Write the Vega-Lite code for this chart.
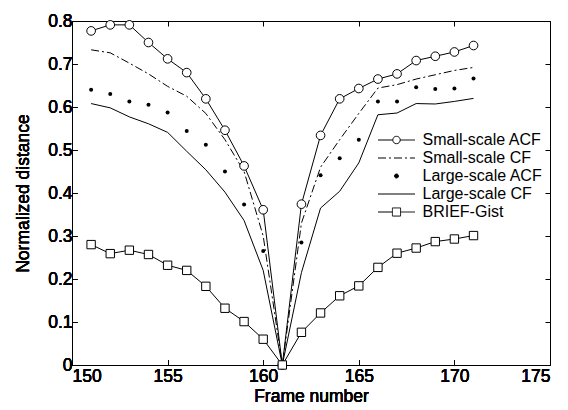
{
  "$schema": "https://vega.github.io/schema/vega-lite/v6.json",
  "width": 478,
  "height": 344,
  "autosize": {"type": "none"},
  "padding": {"left": 72, "top": 21, "right": 18, "bottom": 45},
  "background": "white",
  "config": {
    "view": {"stroke": "black", "strokeWidth": 1},
    "font": "Liberation Sans",
    "axis": {
      "domain": false,
      "grid": false,
      "tickColor": "black",
      "tickSize": -5,
      "labelColor": "black",
      "labelFont": "Liberation Sans",
      "labelFontSize": 17.5,
      "titleFont": "Liberation Sans",
      "titleFontSize": 17.5,
      "titleFontWeight": "normal",
      "titleColor": "black"
    }
  },
  "data": {
    "values": [
      {"series": "Small-scale ACF", "frame": 151, "value": 0.777},
      {"series": "Small-scale ACF", "frame": 152, "value": 0.791},
      {"series": "Small-scale ACF", "frame": 153, "value": 0.791},
      {"series": "Small-scale ACF", "frame": 154, "value": 0.750},
      {"series": "Small-scale ACF", "frame": 155, "value": 0.712},
      {"series": "Small-scale ACF", "frame": 156, "value": 0.680},
      {"series": "Small-scale ACF", "frame": 157, "value": 0.619},
      {"series": "Small-scale ACF", "frame": 158, "value": 0.546},
      {"series": "Small-scale ACF", "frame": 159, "value": 0.463},
      {"series": "Small-scale ACF", "frame": 160, "value": 0.361},
      {"series": "Small-scale ACF", "frame": 161, "value": 0.0},
      {"series": "Small-scale ACF", "frame": 162, "value": 0.374},
      {"series": "Small-scale ACF", "frame": 163, "value": 0.534},
      {"series": "Small-scale ACF", "frame": 164, "value": 0.619},
      {"series": "Small-scale ACF", "frame": 165, "value": 0.643},
      {"series": "Small-scale ACF", "frame": 166, "value": 0.665},
      {"series": "Small-scale ACF", "frame": 167, "value": 0.677},
      {"series": "Small-scale ACF", "frame": 168, "value": 0.708},
      {"series": "Small-scale ACF", "frame": 169, "value": 0.718},
      {"series": "Small-scale ACF", "frame": 170, "value": 0.728},
      {"series": "Small-scale ACF", "frame": 171, "value": 0.743},

      {"series": "Small-scale CF", "frame": 151, "value": 0.733},
      {"series": "Small-scale CF", "frame": 152, "value": 0.726},
      {"series": "Small-scale CF", "frame": 153, "value": 0.702},
      {"series": "Small-scale CF", "frame": 154, "value": 0.677},
      {"series": "Small-scale CF", "frame": 155, "value": 0.648},
      {"series": "Small-scale CF", "frame": 156, "value": 0.625},
      {"series": "Small-scale CF", "frame": 157, "value": 0.585},
      {"series": "Small-scale CF", "frame": 158, "value": 0.524},
      {"series": "Small-scale CF", "frame": 159, "value": 0.450},
      {"series": "Small-scale CF", "frame": 160, "value": 0.300},
      {"series": "Small-scale CF", "frame": 161, "value": 0.0},
      {"series": "Small-scale CF", "frame": 162, "value": 0.330},
      {"series": "Small-scale CF", "frame": 163, "value": 0.460},
      {"series": "Small-scale CF", "frame": 164, "value": 0.524},
      {"series": "Small-scale CF", "frame": 165, "value": 0.585},
      {"series": "Small-scale CF", "frame": 166, "value": 0.644},
      {"series": "Small-scale CF", "frame": 167, "value": 0.652},
      {"series": "Small-scale CF", "frame": 168, "value": 0.665},
      {"series": "Small-scale CF", "frame": 169, "value": 0.675},
      {"series": "Small-scale CF", "frame": 170, "value": 0.685},
      {"series": "Small-scale CF", "frame": 171, "value": 0.692},

      {"series": "Large-scale ACF", "frame": 151, "value": 0.640},
      {"series": "Large-scale ACF", "frame": 152, "value": 0.630},
      {"series": "Large-scale ACF", "frame": 153, "value": 0.613},
      {"series": "Large-scale ACF", "frame": 154, "value": 0.605},
      {"series": "Large-scale ACF", "frame": 155, "value": 0.587},
      {"series": "Large-scale ACF", "frame": 156, "value": 0.544},
      {"series": "Large-scale ACF", "frame": 157, "value": 0.512},
      {"series": "Large-scale ACF", "frame": 158, "value": 0.450},
      {"series": "Large-scale ACF", "frame": 159, "value": 0.373},
      {"series": "Large-scale ACF", "frame": 160, "value": 0.265},
      {"series": "Large-scale ACF", "frame": 161, "value": 0.0},
      {"series": "Large-scale ACF", "frame": 162, "value": 0.285},
      {"series": "Large-scale ACF", "frame": 163, "value": 0.441},
      {"series": "Large-scale ACF", "frame": 164, "value": 0.481},
      {"series": "Large-scale ACF", "frame": 165, "value": 0.524},
      {"series": "Large-scale ACF", "frame": 166, "value": 0.613},
      {"series": "Large-scale ACF", "frame": 167, "value": 0.613},
      {"series": "Large-scale ACF", "frame": 168, "value": 0.646},
      {"series": "Large-scale ACF", "frame": 169, "value": 0.642},
      {"series": "Large-scale ACF", "frame": 170, "value": 0.643},
      {"series": "Large-scale ACF", "frame": 171, "value": 0.666},

      {"series": "Large-scale CF", "frame": 151, "value": 0.608},
      {"series": "Large-scale CF", "frame": 152, "value": 0.598},
      {"series": "Large-scale CF", "frame": 153, "value": 0.577},
      {"series": "Large-scale CF", "frame": 154, "value": 0.561},
      {"series": "Large-scale CF", "frame": 155, "value": 0.541},
      {"series": "Large-scale CF", "frame": 156, "value": 0.497},
      {"series": "Large-scale CF", "frame": 157, "value": 0.454},
      {"series": "Large-scale CF", "frame": 158, "value": 0.402},
      {"series": "Large-scale CF", "frame": 159, "value": 0.336},
      {"series": "Large-scale CF", "frame": 160, "value": 0.220},
      {"series": "Large-scale CF", "frame": 161, "value": 0.0},
      {"series": "Large-scale CF", "frame": 162, "value": 0.215},
      {"series": "Large-scale CF", "frame": 163, "value": 0.365},
      {"series": "Large-scale CF", "frame": 164, "value": 0.404},
      {"series": "Large-scale CF", "frame": 165, "value": 0.470},
      {"series": "Large-scale CF", "frame": 166, "value": 0.582},
      {"series": "Large-scale CF", "frame": 167, "value": 0.586},
      {"series": "Large-scale CF", "frame": 168, "value": 0.608},
      {"series": "Large-scale CF", "frame": 169, "value": 0.607},
      {"series": "Large-scale CF", "frame": 170, "value": 0.613},
      {"series": "Large-scale CF", "frame": 171, "value": 0.620},

      {"series": "BRIEF-Gist", "frame": 151, "value": 0.280},
      {"series": "BRIEF-Gist", "frame": 152, "value": 0.259},
      {"series": "BRIEF-Gist", "frame": 153, "value": 0.267},
      {"series": "BRIEF-Gist", "frame": 154, "value": 0.257},
      {"series": "BRIEF-Gist", "frame": 155, "value": 0.232},
      {"series": "BRIEF-Gist", "frame": 156, "value": 0.220},
      {"series": "BRIEF-Gist", "frame": 157, "value": 0.183},
      {"series": "BRIEF-Gist", "frame": 158, "value": 0.132},
      {"series": "BRIEF-Gist", "frame": 159, "value": 0.101},
      {"series": "BRIEF-Gist", "frame": 160, "value": 0.060},
      {"series": "BRIEF-Gist", "frame": 161, "value": 0.0},
      {"series": "BRIEF-Gist", "frame": 162, "value": 0.076},
      {"series": "BRIEF-Gist", "frame": 163, "value": 0.121},
      {"series": "BRIEF-Gist", "frame": 164, "value": 0.161},
      {"series": "BRIEF-Gist", "frame": 165, "value": 0.184},
      {"series": "BRIEF-Gist", "frame": 166, "value": 0.227},
      {"series": "BRIEF-Gist", "frame": 167, "value": 0.260},
      {"series": "BRIEF-Gist", "frame": 168, "value": 0.272},
      {"series": "BRIEF-Gist", "frame": 169, "value": 0.287},
      {"series": "BRIEF-Gist", "frame": 170, "value": 0.293},
      {"series": "BRIEF-Gist", "frame": 171, "value": 0.301}
    ]
  },
  "encoding": {
    "x": {
      "field": "frame", "type": "quantitative",
      "scale": {"domain": [150, 175], "nice": false, "zero": false},
      "axis": {"orient": "bottom", "values": [150, 155, 160, 165, 170, 175], "title": "Frame number", "labelPadding": 7, "titlePadding": 3}
    },
    "y": {
      "field": "value", "type": "quantitative",
      "scale": {"domain": [0, 0.8], "nice": false},
      "axis": {"orient": "left", "values": [0, 0.1, 0.2, 0.3, 0.4, 0.5, 0.6, 0.7, 0.8], "labelExpr": "datum.value == 0 ? '0' : format(datum.value, '.1f')", "title": "Normalized distance", "labelPadding": 5, "titlePadding": 15}
    }
  },
  "layer": [
    {
      "transform": [{"filter": "datum.series == 'Small-scale ACF' || datum.series == 'Large-scale CF' || datum.series == 'BRIEF-Gist'"}],
      "mark": {"type": "line", "color": "black", "strokeWidth": 1},
      "encoding": {"detail": {"field": "series"}}
    },
    {
      "transform": [{"filter": "datum.series == 'Small-scale CF'"}],
      "mark": {"type": "line", "color": "black", "strokeWidth": 1, "strokeDash": [8, 3, 2, 3]},
      "encoding": {}
    },
    {
      "transform": [{"filter": "datum.series == 'Small-scale ACF'"}],
      "mark": {"type": "point", "shape": "circle", "filled": true, "fill": "white", "stroke": "black", "strokeWidth": 1, "size": 75, "opacity": 1}
    },
    {
      "transform": [{"filter": "datum.series == 'Large-scale ACF'"}],
      "mark": {"type": "circle", "color": "black", "size": 16, "opacity": 1}
    },
    {
      "transform": [{"filter": "datum.series == 'BRIEF-Gist'"}],
      "mark": {"type": "point", "shape": "square", "filled": true, "fill": "white", "stroke": "black", "strokeWidth": 1, "size": 70, "opacity": 1}
    },
    {
      "mark": {"type": "point", "filled": true, "strokeWidth": 1, "opacity": 0},
      "encoding": {
        "x": {"field": "frame", "type": "quantitative", "axis": {"orient": "top", "values": [150, 155, 160, 165, 170, 175], "labels": false, "title": null}},
        "y": {"field": "value", "type": "quantitative", "axis": {"orient": "right", "values": [0, 0.1, 0.2, 0.3, 0.4, 0.5, 0.6, 0.7, 0.8], "labels": false, "title": null}},
        "shape": {
          "field": "series", "type": "nominal",
          "scale": {
            "domain": ["Small-scale ACF", "Small-scale CF", "Large-scale ACF", "Large-scale CF", "BRIEF-Gist"],
            "range": [
              "M-1,0H-0.2M0.2,0H1M0.2,0A0.2,0.2 0 1,1 -0.2,0A0.2,0.2 0 1,1 0.2,0Z",
              "M-1,0H1",
              "M0.11,0A0.11,0.11 0 1,1 -0.11,0A0.11,0.11 0 1,1 0.11,0Z",
              "M-1,0H1",
              "M-1,0H-0.22M0.22,0H1M-0.22,-0.22H0.22V0.22H-0.22Z"
            ]
          },
          "legend": {"title": null, "orient": "none", "legendX": 305.5, "legendY": 110.25, "padding": 0, "symbolSize": 1369, "clipHeight": 17.5, "rowPadding": 0, "labelOffset": 7, "labelFont": "Liberation Sans", "labelFontSize": 16, "labelColor": "black", "symbolOpacity": 1, "symbolStrokeWidth": 1, "labelLimit": 300}
        },
        "fill": {
          "field": "series", "type": "nominal",
          "scale": {
            "domain": ["Small-scale ACF", "Small-scale CF", "Large-scale ACF", "Large-scale CF", "BRIEF-Gist"],
            "range": ["white", "white", "black", "white", "white"]
          },
          "legend": {"title": null, "orient": "none", "legendX": 305.5, "legendY": 110.25, "padding": 0, "symbolSize": 1369, "clipHeight": 17.5, "rowPadding": 0, "labelOffset": 7, "labelFont": "Liberation Sans", "labelFontSize": 16, "labelColor": "black", "symbolOpacity": 1, "symbolStrokeWidth": 1, "labelLimit": 300}
        },
        "stroke": {
          "field": "series", "type": "nominal",
          "scale": {
            "domain": ["Small-scale ACF", "Small-scale CF", "Large-scale ACF", "Large-scale CF", "BRIEF-Gist"],
            "range": ["black", "black", "black", "black", "black"]
          },
          "legend": {"title": null, "orient": "none", "legendX": 305.5, "legendY": 110.25, "padding": 0, "symbolSize": 1369, "clipHeight": 17.5, "rowPadding": 0, "labelOffset": 7, "labelFont": "Liberation Sans", "labelFontSize": 16, "labelColor": "black", "symbolOpacity": 1, "symbolStrokeWidth": 1, "labelLimit": 300}
        },
        "strokeDash": {
          "field": "series", "type": "nominal",
          "scale": {
            "domain": ["Small-scale ACF", "Small-scale CF", "Large-scale ACF", "Large-scale CF", "BRIEF-Gist"],
            "range": [[1, 0], [8, 3, 2, 3], [1, 0], [1, 0], [1, 0]]
          },
          "legend": {"title": null, "orient": "none", "legendX": 305.5, "legendY": 110.25, "padding": 0, "symbolSize": 1369, "clipHeight": 17.5, "rowPadding": 0, "labelOffset": 7, "labelFont": "Liberation Sans", "labelFontSize": 16, "labelColor": "black", "symbolOpacity": 1, "symbolStrokeWidth": 1, "labelLimit": 300}
        }
      }
    }
  ]
}
